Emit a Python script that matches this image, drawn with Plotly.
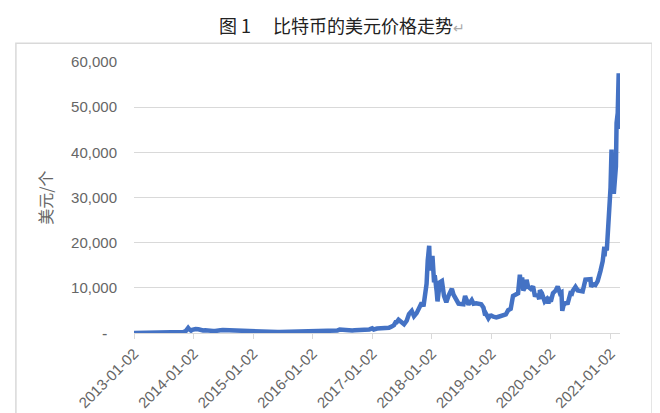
import plotly.graph_objects as go

# bitcoin price, USD per coin
dates = [
    "2013-01-02", "2013-01-16", "2013-02-01", "2013-02-15", "2013-03-01", "2013-03-15",
    "2013-04-01", "2013-04-10", "2013-04-16", "2013-05-01", "2013-05-15", "2013-06-01",
    "2013-06-15", "2013-07-01", "2013-07-15", "2013-08-01", "2013-08-15", "2013-09-01",
    "2013-09-15", "2013-10-01", "2013-10-15", "2013-11-01", "2013-11-15", "2013-11-30",
    "2013-12-07", "2013-12-18", "2013-12-25",
    "2014-01-02", "2014-01-15", "2014-02-01", "2014-02-15", "2014-03-01", "2014-03-15",
    "2014-04-01", "2014-04-15", "2014-05-01", "2014-05-15", "2014-06-01", "2014-06-15",
    "2014-07-01", "2014-07-15", "2014-08-01", "2014-08-15", "2014-09-01", "2014-09-15",
    "2014-10-01", "2014-10-15", "2014-11-01", "2014-11-15", "2014-12-01", "2014-12-15",
    "2015-01-02", "2015-01-14", "2015-02-01", "2015-02-15", "2015-03-01", "2015-03-15",
    "2015-04-01", "2015-04-15", "2015-05-01", "2015-05-15", "2015-06-01", "2015-06-15",
    "2015-07-01", "2015-07-15", "2015-08-01", "2015-08-15", "2015-09-01", "2015-09-15",
    "2015-10-01", "2015-10-15", "2015-11-04", "2015-11-15", "2015-12-01", "2015-12-15",
    "2016-01-02", "2016-01-15", "2016-02-01", "2016-02-15", "2016-03-01", "2016-03-15",
    "2016-04-01", "2016-04-15", "2016-05-01", "2016-05-15", "2016-06-01", "2016-06-16",
    "2016-07-01", "2016-07-15", "2016-08-01", "2016-08-15", "2016-09-01", "2016-09-15",
    "2016-10-01", "2016-10-15", "2016-11-01", "2016-11-15", "2016-12-01", "2016-12-15",
    "2017-01-02", "2017-01-11", "2017-02-01", "2017-02-15", "2017-03-01", "2017-03-15",
    "2017-04-01", "2017-04-15", "2017-05-01", "2017-05-15", "2017-05-25", "2017-06-01",
    "2017-06-12", "2017-07-01", "2017-07-16", "2017-08-01", "2017-08-15", "2017-09-01",
    "2017-09-15", "2017-10-01", "2017-10-15", "2017-11-01", "2017-11-12", "2017-11-20",
    "2017-12-01", "2017-12-08", "2017-12-12", "2017-12-17", "2017-12-22", "2017-12-27",
    "2018-01-02", "2018-01-06", "2018-01-16", "2018-01-20", "2018-02-01", "2018-02-06",
    "2018-02-20", "2018-03-05", "2018-03-18", "2018-04-01", "2018-04-15", "2018-05-05",
    "2018-05-15", "2018-06-01", "2018-06-15", "2018-07-01", "2018-07-15", "2018-07-25",
    "2018-08-10", "2018-08-15", "2018-09-04", "2018-09-15", "2018-10-01", "2018-10-15",
    "2018-11-01", "2018-11-15", "2018-11-25", "2018-12-01", "2018-12-15", "2018-12-25",
    "2019-01-02", "2019-01-15", "2019-02-01", "2019-02-15", "2019-03-01", "2019-03-15",
    "2019-04-01", "2019-04-15", "2019-05-01", "2019-05-15", "2019-06-01", "2019-06-15",
    "2019-06-26", "2019-07-02", "2019-07-10", "2019-07-17", "2019-08-01", "2019-08-06",
    "2019-08-15", "2019-09-01", "2019-09-15", "2019-09-25", "2019-10-15", "2019-10-23",
    "2019-10-27", "2019-11-08", "2019-11-25", "2019-12-08", "2019-12-18", "2019-12-25",
    "2020-01-02", "2020-01-15", "2020-02-01", "2020-02-13", "2020-02-27", "2020-03-07",
    "2020-03-12", "2020-03-20", "2020-04-01", "2020-04-15", "2020-05-01", "2020-05-10",
    "2020-05-15", "2020-06-01", "2020-06-15", "2020-07-01", "2020-07-15", "2020-08-01",
    "2020-08-15", "2020-09-01", "2020-09-05", "2020-09-15", "2020-10-01", "2020-10-15",
    "2020-11-01", "2020-11-15", "2020-11-25", "2020-11-26", "2020-12-01", "2020-12-10",
    "2020-12-17", "2020-12-27",
    "2021-01-02", "2021-01-08", "2021-01-11", "2021-01-14", "2021-01-22", "2021-01-29",
    "2021-02-04", "2021-02-08", "2021-02-15", "2021-02-21", "2021-02-23", "2021-02-28",
    "2021-03-01",
]
usd = [
    13.3, 14.2, 20.4, 27, 34.5, 47,
    104, 165, 83, 116, 114, 129,
    100, 88, 98, 105, 99, 138,
    127, 125, 155, 206, 420, 1120,
    800, 520, 680,
    780, 870, 840, 650, 560, 630,
    480, 520, 450, 450, 630, 590,
    640, 620, 590, 490, 480, 470,
    380, 395, 325, 375, 380, 350,
    315, 180, 225, 235, 260, 285,
    245, 220, 235, 237, 225, 245,
    258, 285, 280, 260, 228, 230,
    237, 255, 400, 330, 360, 450,
    434, 375, 372, 400, 435, 415,
    417, 430, 450, 455, 537, 760,
    676, 663, 606, 567, 572, 607,
    615, 640, 730, 711, 752, 780,
    1020, 780, 990, 1010, 1220, 1240,
    1080, 1180, 1420, 1750, 2400, 2400,
    2950, 2500, 1930, 2720, 4200, 4900,
    3700, 4400, 5700, 6700, 5900, 8200,
    10900, 16000, 17000, 19300, 13800, 15800,
    15000, 17100, 11200, 12800, 9200, 7000,
    11200, 11500, 8200, 6800, 8300, 9800,
    8500, 7500, 6500, 6400, 6350, 8200,
    6300, 6300, 7300, 6500, 6600, 6500,
    6350, 5600, 3900, 4200, 3250, 3800,
    3850, 3600, 3450, 3600, 3820, 3900,
    4100, 5050, 5350, 8200, 8550, 8800,
    12900, 10600, 12300, 9400, 10400, 11800,
    10300, 9750, 10300, 8400, 8300, 7500,
    9500, 8800, 7000, 7500, 6600, 7300,
    6980, 8800, 9400, 10300, 8800, 9000,
    4900, 6200, 6600, 6650, 8800, 8700,
    9300, 10200, 9400, 9200, 9200, 11800,
    11900, 11900, 10200, 10800, 10600, 11500,
    13700, 15900, 19100, 17000, 18800, 18300,
    23000, 26300,
    32200, 40600, 35500, 39200, 30800, 34300,
    36900, 46500, 48700, 57500, 48900, 45200,
    49600,
]

year_ticks = ["2013-01-02", "2014-01-02", "2015-01-02", "2016-01-02", "2017-01-02",
              "2018-01-02", "2019-01-02", "2020-01-02", "2021-01-02"]
y_ticks = [0, 10000, 20000, 30000, 40000, 50000, 60000]
# zero is written as a dash (excel accounting format), placed separately below
y_labels = ["", "10,000", "20,000", "30,000", "40,000", "50,000", "60,000"]

grey = "#666666"
fig = go.Figure()
fig.add_trace(go.Scatter(x=dates, y=usd, mode="lines",
                         line=dict(color="#4472C4", width=4.5), showlegend=False))

# the page puts the figure 8px in from the top-left corner, margins allow for that
fig.update_layout(
    width=660, height=413,
    margin=dict(l=126, r=48, t=54, b=88),
    paper_bgcolor="white", plot_bgcolor="white",
    font=dict(family="Liberation Sans, Noto Sans CJK SC", size=15, color=grey),
    title=dict(text="图 1　 比特币的美元价格走势<span style='color:#aaaaaa;font-size:14px'>↵</span>",
               x=0.506, xref="container", xanchor="center",
               y=0.955, yref="container", yanchor="middle",
               font=dict(family="Noto Sans CJK SC", size=18, color="#222222")),
    shapes=[dict(type="rect", xref="paper", yref="paper",
                 x0=-0.243, x1=1.066, y0=-0.4, y1=1.069,
                 line=dict(color="#d9d9d9", width=1.5), layer="below")],
    annotations=[dict(text="-", xref="paper", x=-0.06, xanchor="center",
                      yref="y", y=y_ticks[0], yanchor="middle", showarrow=False,
                      font=dict(size=16, color=grey))],
)
fig.update_xaxes(
    type="date", range=["2013-01-02", "2021-03-01"], automargin=False,
    tickvals=year_ticks, ticktext=year_ticks, tickangle=-45,
    showgrid=False, showline=True, linecolor="#d9d9d9", linewidth=1,
    ticks="outside", ticklen=5, tickcolor="#d9d9d9",
    zeroline=False, tickfont=dict(size=15, color=grey),
)
fig.update_yaxes(
    range=[0, 60000], tickvals=y_ticks, ticktext=y_labels, automargin=False,
    showgrid=True, gridcolor="#d9d9d9", gridwidth=1, zeroline=False,
    ticklabelstandoff=16, tickfont=dict(size=15, color=grey),
    title=dict(text="美元/个", standoff=14,
               font=dict(family="Noto Sans CJK SC", size=16, color=grey)),
)

fig.write_html("out.html")
